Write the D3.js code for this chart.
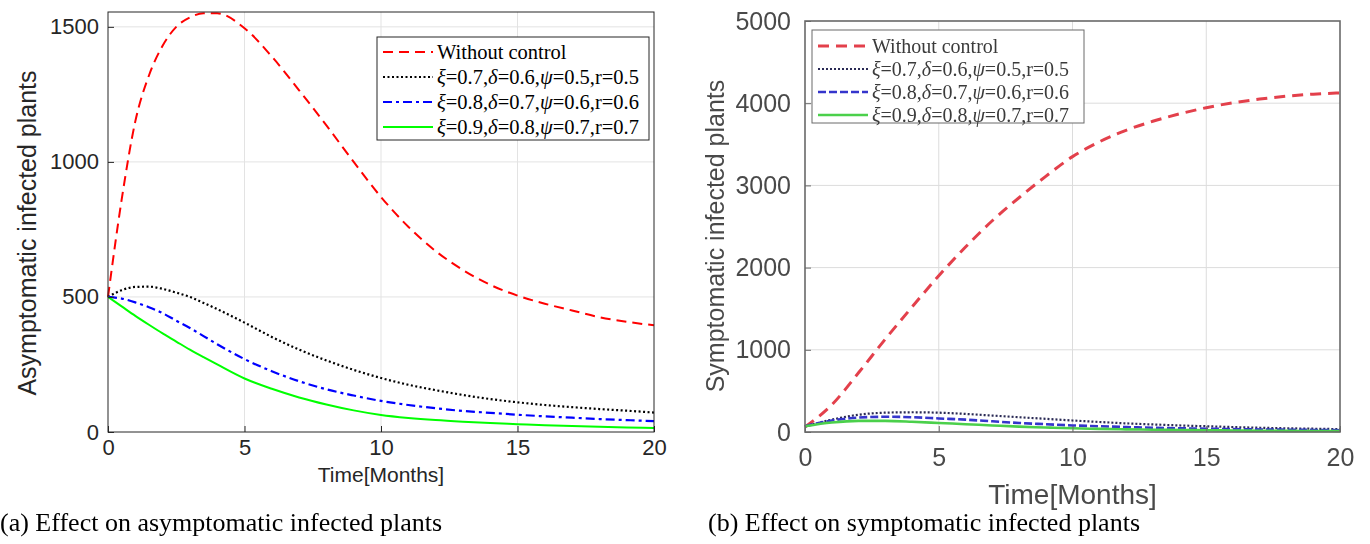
<!DOCTYPE html>
<html>
<head>
<meta charset="utf-8">
<script src="https://cdn.jsdelivr.net/npm/d3@7"></script>
<style>
  body { margin: 0; background: #fff; }
  svg { display: block; }
</style>
</head>
<body>
<div id="chart"></div>
<script>
// time grid (months)
var tA = [0, 0.5, 1, 1.5, 2, 2.5, 3, 3.5, 4, 5, 6, 7, 8, 9, 10, 11, 12, 13, 14, 15, 16, 17, 18, 19, 20];
// asymptomatic infected plants, panel (a)
var aNoControl = [500, 860, 1150, 1320, 1430, 1500, 1535, 1550, 1550, 1495, 1390, 1265, 1135, 1000, 870, 760, 670, 600, 545, 505, 475, 450, 425, 408, 395];
var aCtrl1 = [500, 525, 537, 538, 530, 516, 500, 478, 455, 405, 352, 305, 265, 230, 200, 175, 155, 137, 122, 110, 100, 92, 85, 79, 72];
var aCtrl2 = [500, 494, 480, 462, 440, 412, 385, 355, 325, 270, 225, 188, 158, 135, 115, 100, 88, 78, 71, 64, 58, 53, 48, 44, 40];
var aCtrl3 = [500, 465, 430, 397, 365, 335, 305, 277, 250, 198, 160, 128, 102, 80, 63, 52, 44, 38, 33, 29, 25, 22, 19, 17, 15];

var tS = [0, 1, 2, 3, 4, 5, 6, 7, 8, 9, 10, 11, 12, 13, 14, 15, 16, 17, 18, 19, 20];
// symptomatic infected plants, panel (b)
var sNoControl = [60, 330, 720, 1130, 1520, 1900, 2250, 2570, 2850, 3110, 3350, 3530, 3670, 3780, 3870, 3945, 4005, 4050, 4085, 4110, 4125];
var sCtrl1 = [70, 150, 210, 235, 240, 235, 220, 200, 180, 160, 140, 122, 105, 92, 80, 70, 60, 52, 45, 40, 35];
var sCtrl2 = [70, 140, 175, 185, 180, 165, 150, 130, 110, 95, 80, 70, 60, 52, 45, 40, 35, 31, 28, 25, 22];
var sCtrl3 = [70, 115, 135, 135, 125, 110, 95, 80, 65, 55, 45, 38, 32, 28, 24, 21, 18, 16, 14, 12, 11];

var xTicks = [0, 5, 10, 15, 20];
var aTicks = [0, 500, 1000, 1500];
var sTicks = [0, 1000, 2000, 3000, 4000, 5000];

var legendParams = [
  null,
  ["0.7", "0.6", "0.5", "0.5"],
  ["0.8", "0.7", "0.6", "0.6"],
  ["0.9", "0.8", "0.7", "0.7"]
];

var width = 1370, height = 544;

var svg = d3.select('#chart')
  .append('svg')
  .attr('width', width)
  .attr('height', height);

svg.append('defs').append('filter')
  .attr('id', 'soft')
  .append('feGaussianBlur')
  .attr('stdDeviation', 0.55);

function drawPanel(p) {
  var g = svg.append('g');
  if (p.blur) g.attr('filter', 'url(#soft)');

  var x = d3.scaleLinear().domain([0, 20]).range([p.left, p.right]);
  var y = d3.scaleLinear().domain([0, p.ymax]).range([p.bottom, p.top]);

  // grid
  g.selectAll('.gx').data(xTicks.slice(1, -1)).enter().append('line')
    .attr('x1', function(d) { return x(d); }).attr('x2', function(d) { return x(d); })
    .attr('y1', p.top).attr('y2', p.bottom)
    .attr('stroke', p.grid).attr('stroke-width', 1);
  g.selectAll('.gy').data(p.yTicks.filter(function(d) { return d > 0 && d < p.ymax; })).enter().append('line')
    .attr('x1', p.left).attr('x2', p.right)
    .attr('y1', function(d) { return y(d); }).attr('y2', function(d) { return y(d); })
    .attr('stroke', p.grid).attr('stroke-width', 1);

  // curves
  var line = d3.line()
    .x(function(d) { return x(d[0]); })
    .y(function(d) { return y(d[1]); })
    .curve(d3.curveMonotoneX);

  p.series.forEach(function(s) {
    g.append('path')
      .datum(p.t.map(function(t, i) { return [t, s.values[i]]; }))
      .attr('d', line)
      .attr('fill', 'none')
      .attr('stroke', s.color)
      .attr('stroke-width', s.width)
      .attr('stroke-dasharray', s.dash);
  });

  // axes box with inward ticks
  var xAxis = d3.axisBottom(x).tickValues(xTicks).tickSize(-6).tickPadding(p.xPad).tickFormat(d3.format('d'));
  var yAxis = d3.axisLeft(y).tickValues(p.yTicks).tickSize(-6).tickPadding(p.yPad).tickFormat(d3.format('d'));

  var gx = g.append('g').attr('transform', 'translate(0,' + p.bottom + ')').call(xAxis);
  var gy = g.append('g').attr('transform', 'translate(' + p.left + ',0)').call(yAxis);
  [gx, gy].forEach(function(a) {
    a.select('.domain').remove();
    a.selectAll('.tick line').attr('stroke', p.axis);
    a.selectAll('.tick text')
      .attr('fill', p.text)
      .style('font-family', 'Liberation Sans, Arial, sans-serif')
      .style('font-size', p.tickSize + 'px');
  });
  gx.selectAll('.tick text').attr('dy', '0.8em');

  g.append('rect')
    .attr('x', p.left).attr('y', p.top)
    .attr('width', p.right - p.left).attr('height', p.bottom - p.top)
    .attr('fill', 'none').attr('stroke', p.axis).attr('stroke-width', p.axisWidth);

  // axis labels
  g.append('text')
    .attr('x', (p.left + p.right) / 2).attr('y', p.xLabelY)
    .attr('text-anchor', 'middle')
    .attr('fill', p.text)
    .style('font-family', 'Liberation Sans, Arial, sans-serif')
    .style('font-size', p.xLabelSize + 'px')
    .text('Time[Months]');
  g.append('text')
    .attr('transform', 'translate(' + p.yLabelX + ',' + p.yLabelCY + ') rotate(-90)')
    .attr('text-anchor', 'middle')
    .attr('fill', p.text)
    .style('font-family', 'Liberation Sans, Arial, sans-serif')
    .style('font-size', p.yLabelSize + 'px')
    .text(p.yLabel);

  // legend
  var L = p.legend;
  g.append('rect')
    .attr('x', L.x).attr('y', L.y).attr('width', L.w).attr('height', L.h)
    .attr('fill', '#fff').attr('stroke', p.axis).attr('stroke-width', 1);
  p.series.forEach(function(s, i) {
    var cy = L.y + L.first + i * L.step;
    g.append('line')
      .attr('x1', L.x + 6).attr('x2', L.x + 56)
      .attr('y1', cy).attr('y2', cy)
      .attr('stroke', s.color).attr('stroke-width', s.width)
      .attr('stroke-dasharray', s.dash);
    var t = g.append('text')
      .attr('x', L.x + 60).attr('y', cy + L.size * 0.33)
      .attr('fill', p.legendText)
      .style('font-family', 'Liberation Serif, Times New Roman, serif')
      .style('font-size', L.size + 'px');
    var prm = legendParams[i];
    if (!prm) { t.text('Without control'); return; }
    t.append('tspan').style('font-style', 'italic').text('ξ');
    t.append('tspan').text('=' + prm[0] + ',');
    t.append('tspan').style('font-style', 'italic').text('δ');
    t.append('tspan').text('=' + prm[1] + ',');
    t.append('tspan').style('font-style', 'italic').text('ψ');
    t.append('tspan').text('=' + prm[2] + ',r=' + prm[3]);
  });
}

drawPanel({
  left: 108, right: 654, top: 12, bottom: 432, ymax: 1555,
  yTicks: aTicks, t: tA,
  grid: '#e3e3e3', axis: '#262626', axisWidth: 1, text: '#262626', legendText: '#000',
  tickSize: 22, xLabelSize: 21, yLabelSize: 25, xPad: 5, yPad: 9,
  xLabelY: 482, yLabelX: 36, yLabelCY: 233,
  yLabel: 'Asymptomatic infected plants',
  legend: { x: 377, y: 37, w: 272, h: 103, first: 15, step: 25, size: 20.5 },
  series: [
    { values: aNoControl, color: '#ff0000', width: 2, dash: '10,6' },
    { values: aCtrl1, color: '#000', width: 2.2, dash: '2,2.5' },
    { values: aCtrl2, color: '#0000ff', width: 2.2, dash: '9,4,3,4' },
    { values: aCtrl3, color: '#00ff00', width: 2, dash: null }
  ]
});

drawPanel({
  left: 805, right: 1340, top: 21, bottom: 432, ymax: 5000,
  yTicks: sTicks, t: tS, blur: true,
  grid: '#dcdcdc', axis: '#6a6a6a', axisWidth: 1.6, text: '#4a4a4a', legendText: '#3a3a3a',
  tickSize: 25, xLabelSize: 28, yLabelSize: 25, xPad: 14, yPad: 14,
  xLabelY: 504, yLabelX: 724, yLabelCY: 236,
  yLabel: 'Symptomatic infected plants',
  legend: { x: 812, y: 30, w: 272, h: 93, first: 16, step: 23, size: 20 },
  series: [
    { values: sNoControl, color: '#e3404c', width: 3, dash: '11,7' },
    { values: sCtrl1, color: '#2b2b55', width: 2.2, dash: '2,2' },
    { values: sCtrl2, color: '#3434cc', width: 2.6, dash: '8,3' },
    { values: sCtrl3, color: '#4cd04c', width: 2.6, dash: null }
  ]
});

// captions
svg.append('text').attr('x', 0).attr('y', 531)
  .style('font-family', 'Liberation Serif, Times New Roman, serif')
  .style('font-size', '26px')
  .text('(a) Effect on asymptomatic infected plants');
svg.append('text').attr('x', 708).attr('y', 531)
  .style('font-family', 'Liberation Serif, Times New Roman, serif')
  .style('font-size', '26px')
  .text('(b) Effect on symptomatic infected plants');
</script>
</body>
</html>
